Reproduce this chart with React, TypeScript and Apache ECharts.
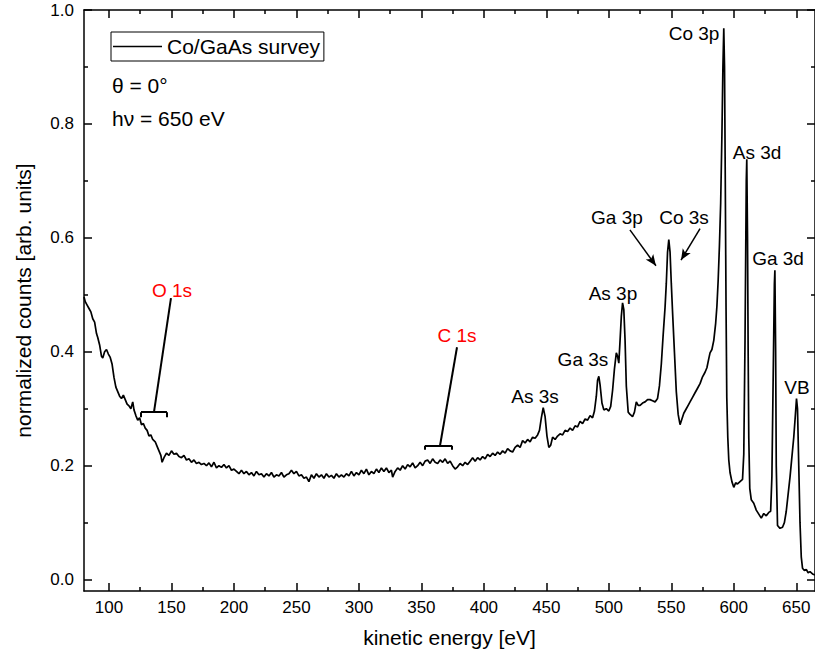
import React, { useEffect, useRef } from "react";
import * as echarts from "echarts";

// ---- Spectrum data ----
const energy = [
  80, 81, 82.5, 84, 85.5, 87, 88.5, 90, 91, 92.5, 94, 95, 96.5, 98, 99.5, 101, 102.5, 104, 105.5, 107,
  108.5, 110, 111.5, 113, 114.5, 116, 117.5, 119, 120, 121.5, 123, 124.5, 126, 127.5, 129, 130.5, 132, 133.5, 135, 137,
  138.5, 140, 141.5, 142.5, 144, 146, 148, 150, 152, 154, 156, 158, 160, 162, 164, 166, 168, 170, 172, 174,
  176, 178, 180, 182, 184, 186, 188, 190, 192, 194, 196, 198, 200, 202, 204, 206, 208, 210, 212, 214,
  216, 218, 220, 222, 224, 226, 228, 230, 232, 234, 236, 238, 240, 242, 244, 246, 248, 250, 252, 254,
  256, 258, 260, 262, 264, 266, 268, 270, 272, 274, 276, 278, 280, 282, 284, 286, 288, 290, 292, 294,
  296, 298, 300, 302, 304, 306, 308, 310, 312, 314, 316, 318, 320, 322, 324, 326, 327, 329, 331, 333,
  335, 337, 339, 341, 343, 345, 347, 349, 351, 353, 355, 357, 359, 361, 363, 365, 367, 369, 371, 373,
  375, 377, 379, 381, 383, 385, 387, 389, 391, 393, 395, 397, 399, 401, 403, 405, 407, 409, 411, 413,
  415, 417, 419, 421, 423, 425, 427, 429, 431, 433, 435, 437, 439, 441, 443, 444.5, 446, 447.5, 449, 450.5,
  452, 453.5, 455, 457, 459, 461, 463, 465, 467, 469, 471, 473, 475, 477, 479, 481, 483, 485, 487, 488.5,
  490, 491, 492, 493, 494.5, 496, 498, 500, 501.5, 503, 504.5, 506, 507, 508, 509, 510, 511, 512, 513, 514,
  515.5, 517, 519, 520.5, 522, 523.5, 525, 527, 529, 531, 533, 535, 537, 539, 540.5, 542, 543.5, 545, 546, 547,
  548, 549, 550, 551, 552.5, 554, 555.5, 557, 558.5, 560, 562, 563.5, 565, 567, 569, 571, 573, 575, 577, 578.5,
  580, 581, 582.5, 584, 585.5, 586.5, 587.5, 588.5, 589.5, 590.5, 591.3, 592, 592.6, 593.2, 593.8, 594.4, 595.2, 596, 597, 598.5,
  600, 601.5, 603, 605, 607, 608, 609, 610, 610.4, 611, 611.5, 612, 612.8, 614, 616, 618, 620, 622, 624, 626,
  628, 629.5, 630.5, 631.5, 632.5, 632.9, 633.5, 634, 635, 637, 639, 640.5, 642, 643.5, 645, 646.5, 648, 649, 650.2, 651,
  652, 653, 654, 655, 656.5, 658, 659.5, 661, 663, 665,
];

const counts = [
  0.496, 0.488, 0.482, 0.476, 0.470, 0.458, 0.452, 0.432, 0.425, 0.412, 0.392, 0.389, 0.400, 0.404, 0.396, 0.390, 0.378, 0.355, 0.338, 0.330,
  0.322, 0.318, 0.324, 0.316, 0.308, 0.305, 0.300, 0.312, 0.298, 0.288, 0.280, 0.284, 0.272, 0.274, 0.266, 0.262, 0.252, 0.254, 0.246, 0.242,
  0.234, 0.226, 0.218, 0.206, 0.214, 0.222, 0.218, 0.226, 0.220, 0.222, 0.216, 0.214, 0.218, 0.210, 0.212, 0.206, 0.210, 0.204, 0.206, 0.202,
  0.204, 0.200, 0.205, 0.198, 0.206, 0.196, 0.200, 0.197, 0.202, 0.196, 0.200, 0.192, 0.194, 0.190, 0.186, 0.192, 0.186, 0.190, 0.184, 0.188,
  0.182, 0.190, 0.184, 0.186, 0.180, 0.186, 0.182, 0.188, 0.180, 0.184, 0.182, 0.188, 0.180, 0.184, 0.186, 0.192, 0.186, 0.190, 0.182, 0.184,
  0.178, 0.180, 0.172, 0.184, 0.178, 0.186, 0.180, 0.184, 0.178, 0.186, 0.180, 0.183, 0.178, 0.186, 0.180, 0.184, 0.180, 0.186, 0.182, 0.190,
  0.182, 0.188, 0.184, 0.192, 0.186, 0.194, 0.184, 0.190, 0.186, 0.194, 0.188, 0.196, 0.190, 0.196, 0.188, 0.192, 0.180, 0.190, 0.196, 0.192,
  0.200, 0.194, 0.202, 0.198, 0.205, 0.196, 0.200, 0.206, 0.200, 0.208, 0.210, 0.204, 0.212, 0.206, 0.204, 0.210, 0.206, 0.212, 0.204, 0.208,
  0.200, 0.194, 0.198, 0.204, 0.200, 0.206, 0.202, 0.208, 0.214, 0.208, 0.214, 0.210, 0.216, 0.212, 0.220, 0.216, 0.222, 0.218, 0.224, 0.220,
  0.226, 0.222, 0.230, 0.226, 0.224, 0.232, 0.236, 0.232, 0.244, 0.240, 0.246, 0.242, 0.250, 0.248, 0.254, 0.262, 0.284, 0.302, 0.286, 0.252,
  0.232, 0.236, 0.250, 0.246, 0.252, 0.256, 0.254, 0.262, 0.260, 0.266, 0.262, 0.270, 0.268, 0.278, 0.274, 0.282, 0.280, 0.288, 0.284, 0.296,
  0.322, 0.350, 0.357, 0.342, 0.310, 0.298, 0.300, 0.296, 0.304, 0.332, 0.370, 0.398, 0.392, 0.380, 0.420, 0.462, 0.486, 0.474, 0.420, 0.340,
  0.294, 0.290, 0.286, 0.294, 0.312, 0.306, 0.306, 0.310, 0.312, 0.316, 0.316, 0.314, 0.312, 0.318, 0.340, 0.378, 0.430, 0.478, 0.520, 0.575,
  0.597, 0.575, 0.520, 0.470, 0.400, 0.330, 0.290, 0.272, 0.282, 0.292, 0.300, 0.306, 0.312, 0.320, 0.328, 0.336, 0.344, 0.356, 0.364, 0.372,
  0.388, 0.398, 0.404, 0.420, 0.450, 0.480, 0.525, 0.585, 0.660, 0.780, 0.900, 0.968, 0.900, 0.700, 0.480, 0.320, 0.250, 0.210, 0.188, 0.172,
  0.162, 0.170, 0.168, 0.172, 0.176, 0.220, 0.420, 0.700, 0.738, 0.600, 0.400, 0.250, 0.160, 0.140, 0.134, 0.122, 0.115, 0.108, 0.116, 0.112,
  0.118, 0.120, 0.180, 0.350, 0.520, 0.543, 0.400, 0.200, 0.095, 0.090, 0.092, 0.100, 0.120, 0.150, 0.180, 0.215, 0.250, 0.280, 0.318, 0.300,
  0.200, 0.100, 0.040, 0.020, 0.016, 0.018, 0.012, 0.014, 0.010, 0.008,
];

// ---- Axis ticks ----
const xMajor = [100, 150, 200, 250, 300, 350, 400, 450, 500, 550, 600, 650];
const xMinor = [125, 175, 225, 275, 325, 375, 425, 475, 525, 575, 625];
const yMajor = [0, 0.2, 0.4, 0.6, 0.8, 1.0];
const yMinor = [0.1, 0.3, 0.5, 0.7, 0.9];

// ---- Annotations (data coordinates) ----
const peakNames = ["Co 3p", "As 3d", "Ga 3d", "VB", "Ga 3p", "Co 3s", "As 3p", "Ga 3s", "As 3s", "O 1s", "C 1s"];
const peakLabelAt = [
  [568.2, 0.958], [618.6, 0.749], [635.4, 0.563], [650.6, 0.338], [506.5, 0.635],
  [560.2, 0.635], [503.3, 0.503], [479.3, 0.386], [440.9, 0.322], [150.4, 0.507], [378.5, 0.428],
];
const peakColors = ["#000", "#000", "#000", "#000", "#000", "#000", "#000", "#000", "#000", "#ff0000", "#ff0000"];

const arrows = [
  [[516.9, 0.614], [537.7, 0.551]],
  [[573.0, 0.616], [557.8, 0.561]],
];
const leaders = [
  [[149.6, 0.494], [136.0, 0.294]],
  [[125.6, 0.294], [146.4, 0.294]],
  [[125.6, 0.294], [125.6, 0.285]],
  [[146.4, 0.294], [146.4, 0.285]],
  [[378.5, 0.408], [364.9, 0.235]],
  [[352.9, 0.235], [374.5, 0.235]],
  [[352.9, 0.235], [352.9, 0.228]],
  [[374.5, 0.235], [374.5, 0.228]],
];

const FONT = '"Liberation Sans", Arial, Helvetica, sans-serif';
const X_MIN = 80, X_MAX = 665, Y_MIN = -0.02, Y_MAX = 1.0;

export default function App() {
  const ref = useRef<HTMLDivElement>(null);

  useEffect(() => {
    const chart = echarts.init(ref.current!, null, { renderer: "svg" });
    const lineStyle = { color: "#000", width: 1.5 };

    const mkX = (position: string, ticks: number[], len: number, main: boolean) => ({
      type: "value",
      position,
      min: X_MIN,
      max: X_MAX,
      name: main && position === "bottom" ? "kinetic energy [eV]" : "",
      nameLocation: "middle",
      nameGap: 36,
      nameTextStyle: { fontSize: 21, color: "#000", fontFamily: FONT },
      axisLine: { show: main, onZero: false, lineStyle },
      axisTick: { show: true, inside: true, length: len, customValues: ticks, lineStyle },
      axisLabel: main && position === "bottom"
        ? { show: true, customValues: ticks, fontSize: 17, color: "#000", fontFamily: FONT, margin: 8, showMinLabel: true, showMaxLabel: true }
        : { show: false },
      splitLine: { show: false },
    });
    const mkY = (position: string, ticks: number[], len: number, main: boolean) => ({
      type: "value",
      position,
      min: Y_MIN,
      max: Y_MAX,
      name: main && position === "left" ? "normalized counts [arb. units]" : "",
      nameLocation: "middle",
      nameGap: 50,
      nameTextStyle: { fontSize: 21, color: "#000", fontFamily: FONT },
      axisLine: { show: main, onZero: false, lineStyle },
      axisTick: { show: true, inside: true, length: len, customValues: ticks, lineStyle },
      axisLabel: main && position === "left"
        ? { show: true, customValues: ticks, fontSize: 17, color: "#000", fontFamily: FONT, margin: 10, formatter: (v: number) => v.toFixed(1) }
        : { show: false },
      splitLine: { show: false },
    });

    const markLines: any[] = [];
    leaders.forEach((l) => {
      markLines.push([
        { coord: l[0], symbol: "none", lineStyle: { color: "#000", width: 2, type: "solid" } },
        { coord: l[1], symbol: "none" },
      ]);
    });
    arrows.forEach((a) => {
      markLines.push([
        { coord: a[0], symbol: "none", lineStyle: { color: "#000", width: 1.5, type: "solid" } },
        { coord: a[1], symbol: "arrow", symbolSize: [7, 11] },
      ]);
    });

    chart.setOption({
      animation: false,
      backgroundColor: "#fff",
      textStyle: { fontFamily: FONT },
      grid: { left: 84, right: 0, top: 10, bottom: 66, containLabel: false, outerBoundsMode: "none" },
      legend: {
        show: true,
        left: 111,
        top: 32,
        data: [{ name: "Co/GaAs survey", icon: "rect" }],
        itemWidth: 49,
        itemHeight: 1.6,
        itemGap: 5,
        borderColor: "#000",
        borderWidth: 1,
        padding: [4, 4, 4, 2],
        textStyle: { fontSize: 21, color: "#000", fontFamily: FONT },
      },
      xAxis: [
        mkX("bottom", xMajor, 8, true),
        mkX("bottom", xMinor, 4, false),
        mkX("top", xMajor, 8, true),
        mkX("top", xMinor, 4, false),
      ],
      yAxis: [
        mkY("left", yMajor, 8, true),
        mkY("left", yMinor, 4, false),
        mkY("right", yMajor, 8, true),
        mkY("right", yMinor, 4, false),
      ],
      series: [
        {
          type: "line",
          name: "Co/GaAs survey",
          xAxisIndex: 0,
          yAxisIndex: 0,
          data: energy.map((e, i) => [e, counts[i]]),
          showSymbol: false,
          symbol: "none",
          lineStyle: { color: "#000", width: 1.7 },
          itemStyle: { color: "#000" },
          markLine: {
            silent: true,
            animation: false,
            label: { show: false },
            data: markLines,
          },
        },
      ],
    });

    const texts: any[] = peakNames.map((name, i) => {
      const p = chart.convertToPixel({ xAxisIndex: 0, yAxisIndex: 0 }, peakLabelAt[i]) as number[];
      return {
        type: "text",
        x: p[0],
        y: p[1],
        silent: true,
        style: {
          text: name,
          fill: peakColors[i],
          fontSize: 19,
          fontFamily: FONT,
          align: "center",
          verticalAlign: "middle",
        },
      };
    });
    texts.push(
      { type: "text", x: 112, y: 85, style: { text: "θ = 0°", fill: "#000", fontSize: 21, fontFamily: FONT, align: "left", verticalAlign: "middle" } },
      { type: "text", x: 112, y: 118, style: { text: "hν = 650 eV", fill: "#000", fontSize: 21, fontFamily: FONT, align: "left", verticalAlign: "middle" } },
    );
    chart.setOption({ graphic: texts });

    return () => chart.dispose();
  }, []);

  return <div ref={ref} style={{ position: "fixed", left: 0, top: 0, width: 815, height: 657, background: "#fff" }} />;
}
